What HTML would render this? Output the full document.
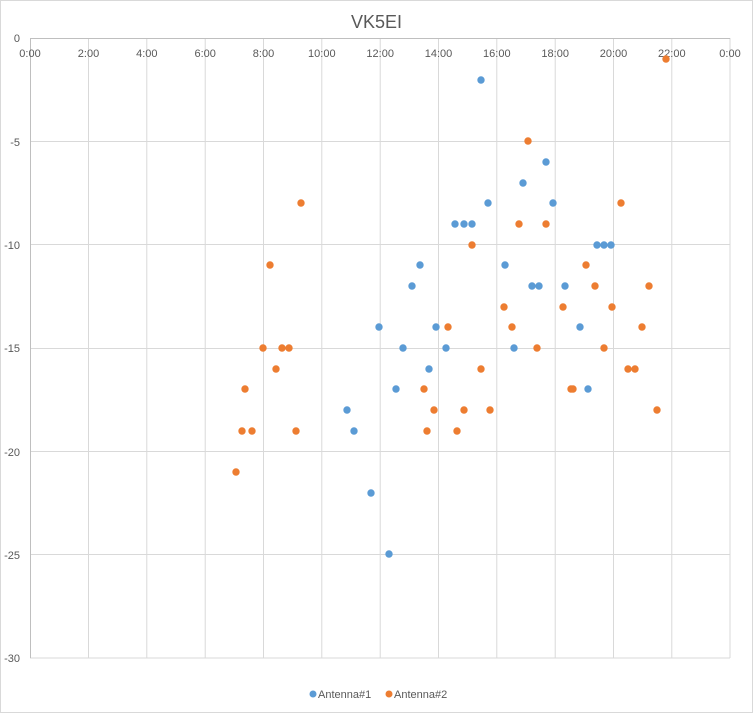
<!DOCTYPE html>
<html><head><meta charset="utf-8"><style>body{margin:0;background:#fff}svg{display:block}</style></head><body>
<svg width="753" height="714" xmlns="http://www.w3.org/2000/svg" font-family="Liberation Sans, sans-serif">
<rect x="0.5" y="0.5" width="752" height="712" fill="#fff" stroke="#d9d9d9"/>
<text x="376.5" y="28" font-size="18" fill="#595959" text-anchor="middle">VK5EI</text>
<g stroke="#d9d9d9" stroke-width="1">
<line x1="30" y1="141.5" x2="730" y2="141.5"/><line x1="30" y1="244.5" x2="730" y2="244.5"/><line x1="30" y1="348.5" x2="730" y2="348.5"/><line x1="30" y1="451.5" x2="730" y2="451.5"/><line x1="30" y1="554.5" x2="730" y2="554.5"/><line x1="30" y1="658" x2="730" y2="658"/>
<line x1="88.5" y1="38" x2="88.5" y2="658"/><line x1="146.8" y1="38" x2="146.8" y2="658"/><line x1="205.2" y1="38" x2="205.2" y2="658"/><line x1="263.5" y1="38" x2="263.5" y2="658"/><line x1="321.8" y1="38" x2="321.8" y2="658"/><line x1="380.2" y1="38" x2="380.2" y2="658"/><line x1="438.5" y1="38" x2="438.5" y2="658"/><line x1="496.8" y1="38" x2="496.8" y2="658"/><line x1="555.2" y1="38" x2="555.2" y2="658"/><line x1="613.5" y1="38" x2="613.5" y2="658"/><line x1="671.8" y1="38" x2="671.8" y2="658"/><line x1="730" y1="38" x2="730" y2="658"/>
</g>
<g stroke="#bfbfbf"><line x1="30" y1="38.5" x2="730" y2="38.5"/><line x1="30.5" y1="38" x2="30.5" y2="658"/></g>
<g font-size="11" fill="#595959" text-anchor="end">
<text x="20" y="42">0</text><text x="20" y="146">-5</text><text x="20" y="249">-10</text><text x="20" y="352">-15</text><text x="20" y="456">-20</text><text x="20" y="559">-25</text><text x="20" y="662">-30</text>
</g>
<g font-size="11" fill="#595959" text-anchor="middle">
<text x="30" y="57">0:00</text><text x="88.5" y="57">2:00</text><text x="146.8" y="57">4:00</text><text x="205.2" y="57">6:00</text><text x="263.5" y="57">8:00</text><text x="321.8" y="57">10:00</text><text x="380.2" y="57">12:00</text><text x="438.5" y="57">14:00</text><text x="496.8" y="57">16:00</text><text x="555.2" y="57">18:00</text><text x="613.5" y="57">20:00</text><text x="671.8" y="57">22:00</text><text x="730" y="57">0:00</text>
</g>
<g fill="#5b9bd5">
<circle cx="481" cy="80" r="3.7"/><circle cx="488" cy="203" r="3.7"/><circle cx="455" cy="224" r="3.7"/><circle cx="464" cy="224" r="3.7"/><circle cx="472" cy="224" r="3.7"/><circle cx="523" cy="183" r="3.7"/><circle cx="546" cy="162" r="3.7"/><circle cx="553" cy="203" r="3.7"/><circle cx="420" cy="265" r="3.7"/><circle cx="412" cy="286" r="3.7"/><circle cx="505" cy="265" r="3.7"/><circle cx="532" cy="286" r="3.7"/><circle cx="539" cy="286" r="3.7"/><circle cx="565" cy="286" r="3.7"/><circle cx="580" cy="327" r="3.7"/><circle cx="597" cy="245" r="3.7"/><circle cx="604" cy="245" r="3.7"/><circle cx="611" cy="245" r="3.7"/><circle cx="379" cy="327" r="3.7"/><circle cx="436" cy="327" r="3.7"/><circle cx="403" cy="348" r="3.7"/><circle cx="446" cy="348" r="3.7"/><circle cx="514" cy="348" r="3.7"/><circle cx="429" cy="369" r="3.7"/><circle cx="396" cy="389" r="3.7"/><circle cx="347" cy="410" r="3.7"/><circle cx="354" cy="431" r="3.7"/><circle cx="588" cy="389" r="3.7"/><circle cx="371" cy="493" r="3.7"/><circle cx="389" cy="554" r="3.7"/>
</g>
<g fill="#ed7d31">
<circle cx="666" cy="59" r="3.7"/><circle cx="528" cy="141" r="3.7"/><circle cx="301" cy="203" r="3.7"/><circle cx="621" cy="203" r="3.7"/><circle cx="519" cy="224" r="3.7"/><circle cx="546" cy="224" r="3.7"/><circle cx="472" cy="245" r="3.7"/><circle cx="270" cy="265" r="3.7"/><circle cx="586" cy="265" r="3.7"/><circle cx="504" cy="307" r="3.7"/><circle cx="563" cy="307" r="3.7"/><circle cx="595" cy="286" r="3.7"/><circle cx="649" cy="286" r="3.7"/><circle cx="612" cy="307" r="3.7"/><circle cx="448" cy="327" r="3.7"/><circle cx="512" cy="327" r="3.7"/><circle cx="642" cy="327" r="3.7"/><circle cx="263" cy="348" r="3.7"/><circle cx="282" cy="348" r="3.7"/><circle cx="289" cy="348" r="3.7"/><circle cx="537" cy="348" r="3.7"/><circle cx="604" cy="348" r="3.7"/><circle cx="276" cy="369" r="3.7"/><circle cx="481" cy="369" r="3.7"/><circle cx="628" cy="369" r="3.7"/><circle cx="635" cy="369" r="3.7"/><circle cx="245" cy="389" r="3.7"/><circle cx="424" cy="389" r="3.7"/><circle cx="571" cy="389" r="3.7"/><circle cx="573" cy="389" r="3.7"/><circle cx="434" cy="410" r="3.7"/><circle cx="464" cy="410" r="3.7"/><circle cx="490" cy="410" r="3.7"/><circle cx="657" cy="410" r="3.7"/><circle cx="242" cy="431" r="3.7"/><circle cx="252" cy="431" r="3.7"/><circle cx="296" cy="431" r="3.7"/><circle cx="427" cy="431" r="3.7"/><circle cx="457" cy="431" r="3.7"/><circle cx="236" cy="472" r="3.7"/>
</g>
<circle cx="313" cy="694" r="3.5" fill="#5b9bd5"/><text x="318" y="698" font-size="11" fill="#595959">Antenna#1</text>
<circle cx="389" cy="694" r="3.5" fill="#ed7d31"/><text x="394" y="698" font-size="11" fill="#595959">Antenna#2</text>
</svg>
</body></html>
